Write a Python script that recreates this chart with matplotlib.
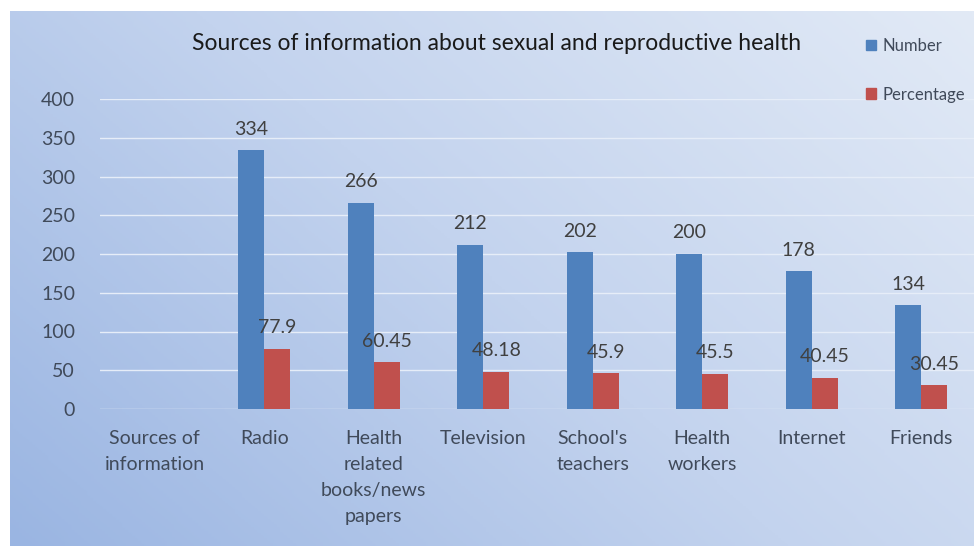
import numpy as np
import matplotlib
matplotlib.use("Agg")
import matplotlib.pyplot as plt
from matplotlib.patches import Patch
from matplotlib.colors import LinearSegmentedColormap

categories = ["Sources of\ninformation", "Radio", "Health\nrelated\nbooks/news\npapers",
              "Television", "School's\nteachers", "Health\nworkers", "Internet", "Friends"]
number = [np.nan, 334, 266, 212, 202, 200, 178, 134]
percentage = [np.nan, 77.9, 60.45, 48.18, 45.9, 45.5, 40.45, 30.45]
number_labels = ["", "334", "266", "212", "202", "200", "178", "134"]
percentage_labels = ["", "77.9", "60.45", "48.18", "45.9", "45.5", "40.45", "30.45"]

plt.rcParams['font.family'] = ['Lato', 'DejaVu Sans']

W, H = 974, 546
fig = plt.figure(figsize=(W / 100, H / 100), dpi=100)
fig.patch.set_facecolor('white')

# gradient background
bg = fig.add_axes([10 / W, 0, 1 - 10 / W, 1 - 11 / H])
bg.set_axis_off()
yy, xx = np.mgrid[0:1:200j, 0:1:300j]
t = np.clip(0.62 * xx + 0.38 * yy, 0, 1)
cmap = LinearSegmentedColormap.from_list("bg", ["#9ab5e2", "#c3d3ee", "#e2eaf6"])
bg.imshow(t, cmap=cmap, origin='lower', aspect='auto', extent=[0, 1, 0, 1], vmin=0, vmax=1)
bg.set_xlim(0, 1)
bg.set_ylim(0, 1)

# main axes
ax = fig.add_axes([100 / W, (H - 409) / H, 876 / W, 310 / H])
ax.patch.set_alpha(0)
x = np.arange(len(categories))
bw = 0.238
ax.bar(x - bw / 2, number, bw, color="#4f81bd", zorder=3, label="Number")
ax.bar(x + bw / 2, percentage, bw, color="#c0504d", zorder=3, label="Percentage")
ax.set_xlim(-0.5, len(categories) - 0.5)
ax.set_ylim(0, 400)
ax.set_yticks(np.arange(0, 401, 50))
ax.grid(axis='y', color='#e6edf8', linewidth=1.0, zorder=0)
for s in ax.spines.values():
    s.set_visible(False)
ax.tick_params(length=0, colors='#404a5a', labelsize=14)
ax.tick_params(axis='y', pad=18)
ax.tick_params(axis='x', pad=15)
ax.set_xticks(x)
ax.set_xticklabels(categories, va='top', linespacing=1.65, color='#404a5a')
for lab in ax.get_yticklabels():
    lab.set_color('#404a5a')

for xi, v, lab in zip(x, number, number_labels):
    if lab:
        ax.annotate(lab, (xi - bw / 2, v), xytext=(0, 9), textcoords='offset points',
                    ha='center', va='bottom', fontsize=14, color='#404040')
for xi, v, lab in zip(x, percentage, percentage_labels):
    if lab:
        ax.annotate(lab, (xi + bw / 2, v), xytext=(0, 9), textcoords='offset points',
                    ha='center', va='bottom', fontsize=14, color='#404040')

fig.text(497 / W, 1 - 44 / H, "Sources of information about sexual and reproductive health",
         ha='center', va='center', fontsize=16.5, color='#1a1a1a')

handles = [Patch(color="#4f81bd"), Patch(color="#c0504d")]
fig.legend(handles, ["Number", "Percentage"], loc='upper left',
           bbox_to_anchor=(851 / W, 1 - 23 / H), frameon=False, fontsize=12,
           labelspacing=1.95, handlelength=0.6, handleheight=0.6, handletextpad=0.4,
           labelcolor='#404a5a')

fig.savefig("out.png", dpi=100)
